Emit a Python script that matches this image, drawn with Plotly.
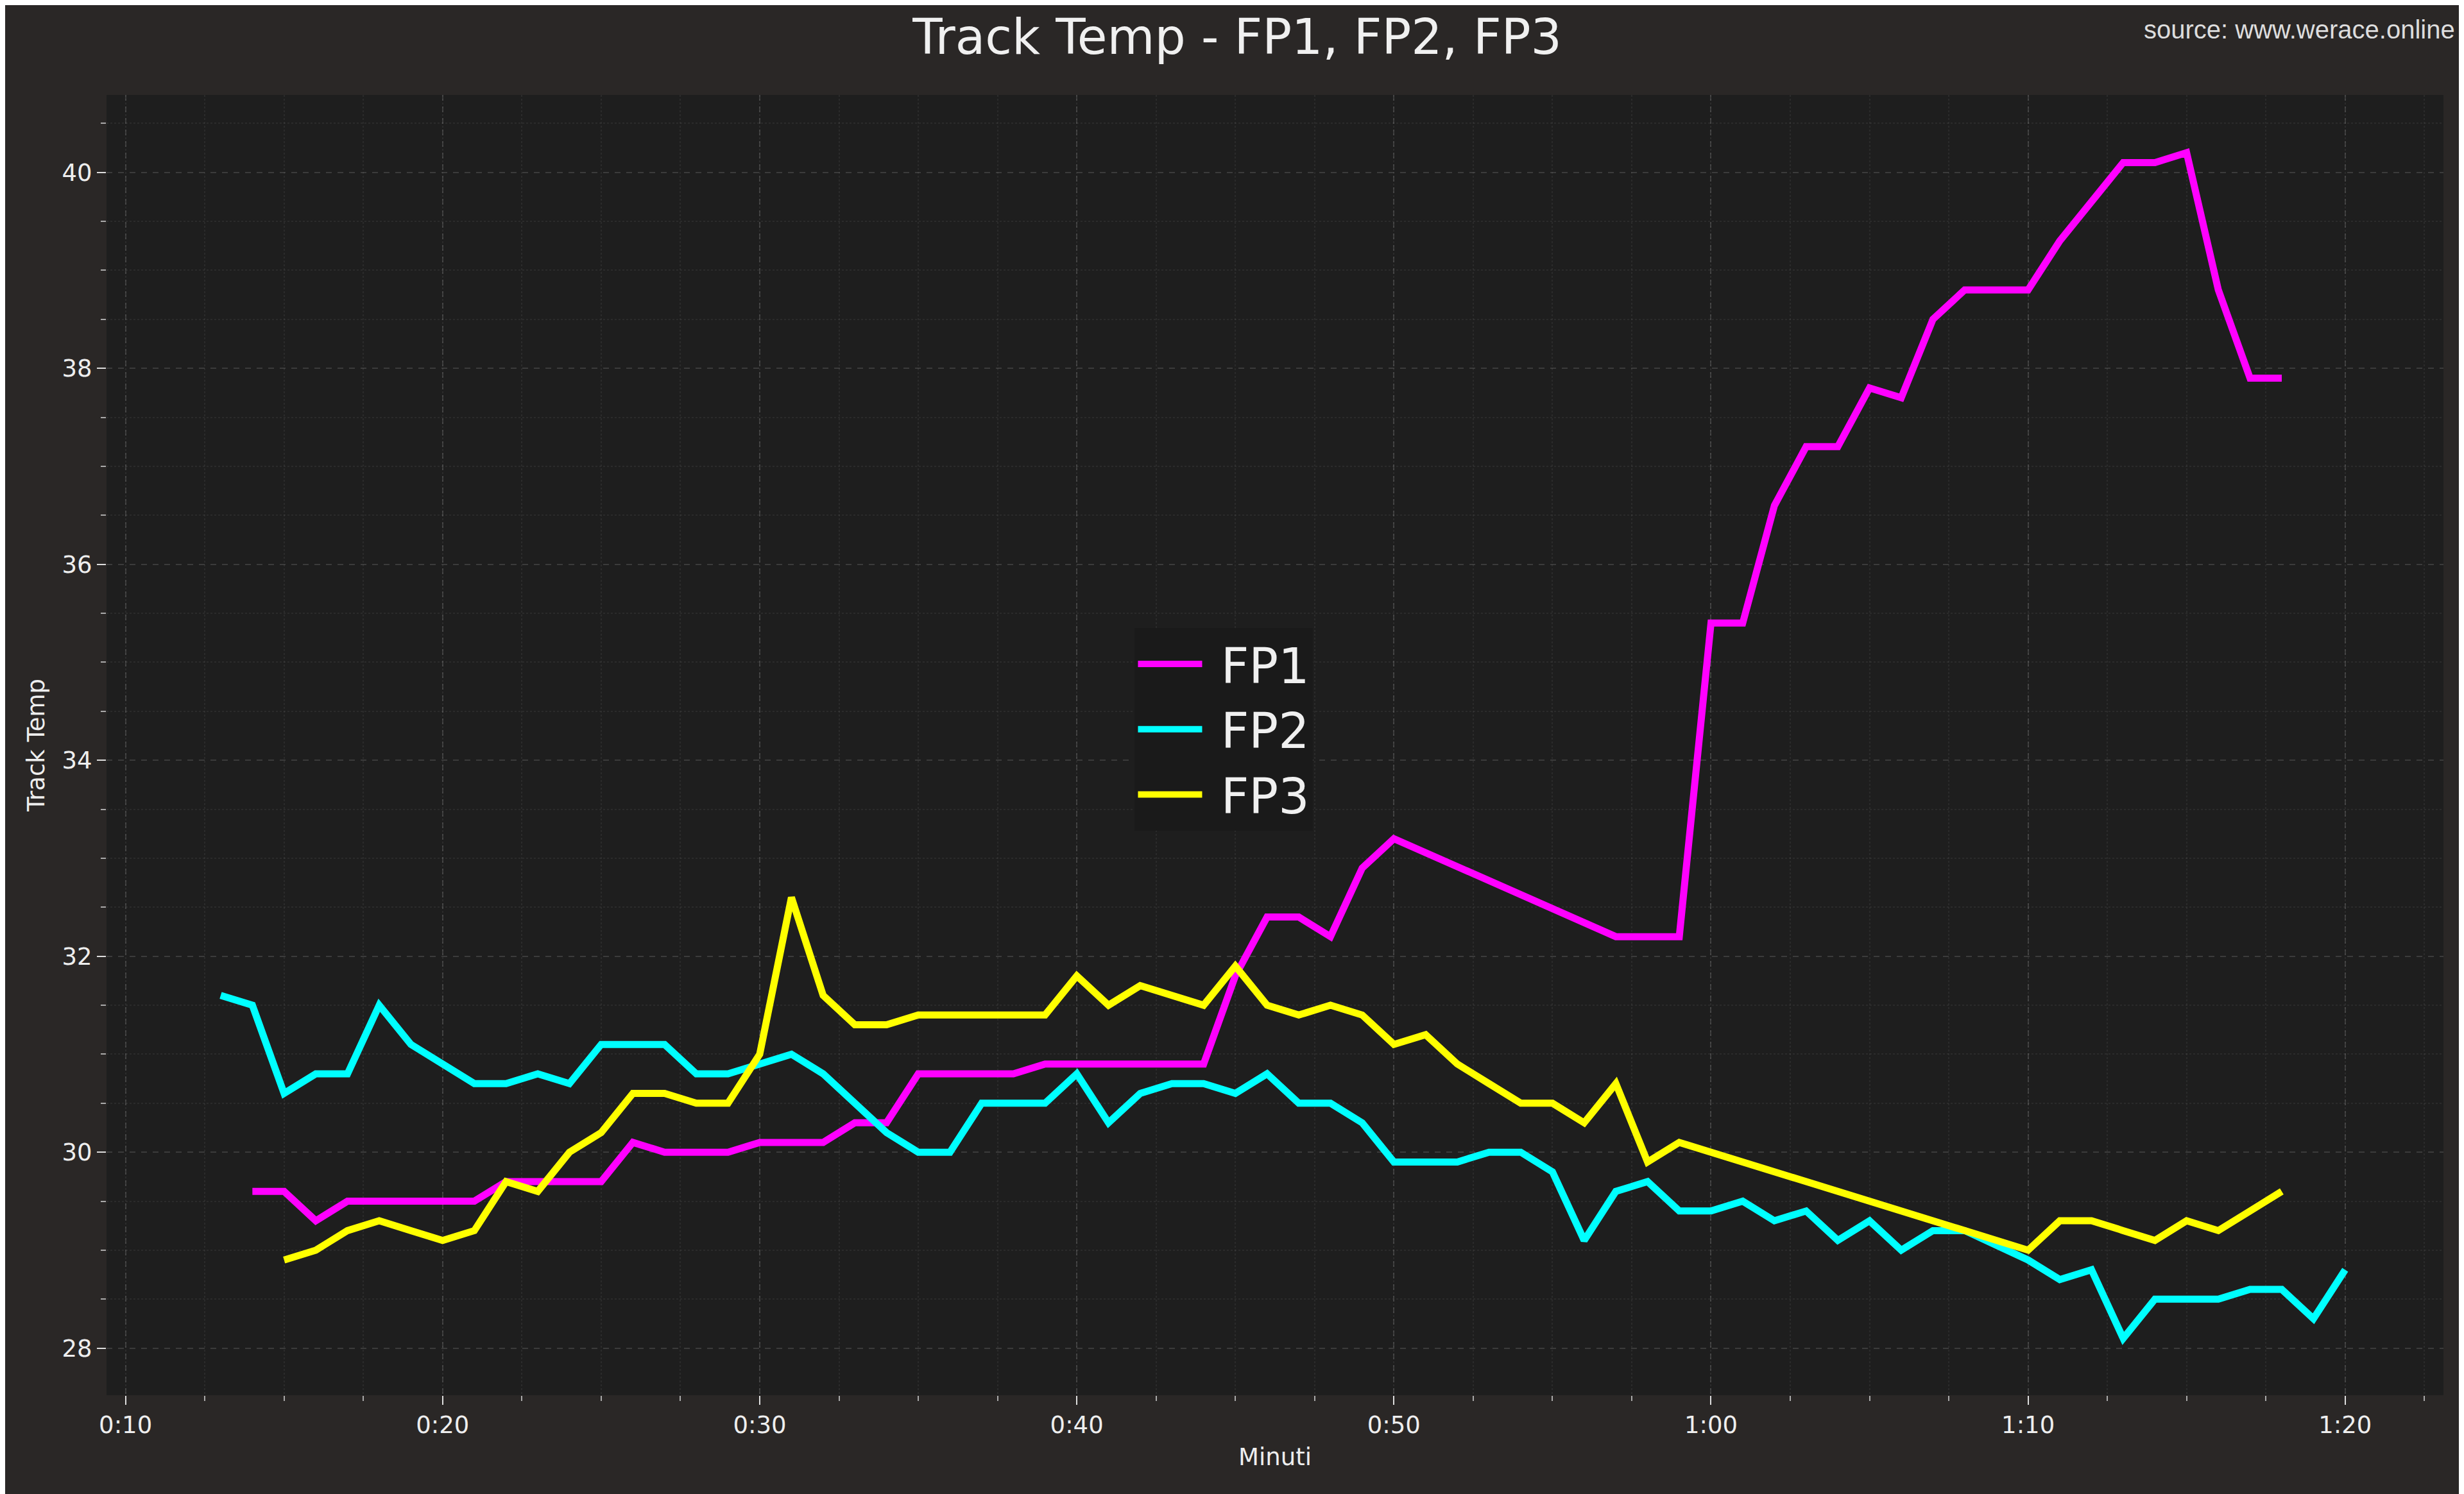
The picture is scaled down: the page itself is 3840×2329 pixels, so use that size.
import plotly.graph_objects as go

# minutes into session
fp1_min = list(range(14, 51)) + list(range(57, 79))
fp1_temp = [29.6, 29.6, 29.3, 29.5, 29.5, 29.5, 29.5, 29.5, 29.7, 29.7, 29.7, 29.7,
            30.1, 30.0, 30.0, 30.0, 30.1, 30.1, 30.1, 30.3, 30.3, 30.8, 30.8, 30.8,
            30.8, 30.9, 30.9, 30.9, 30.9, 30.9, 30.9, 31.8, 32.4, 32.4, 32.2, 32.9, 33.2,
            32.2, 32.2, 32.2, 35.4, 35.4, 36.6, 37.2, 37.2, 37.8, 37.7, 38.5, 38.8,
            38.8, 38.8, 39.3, 39.7, 40.1, 40.1, 40.2, 38.8, 37.9, 37.9]

fp2_min = list(range(13, 81))
fp2_temp = [31.6, 31.5, 30.6, 30.8, 30.8, 31.5, 31.1, 30.9, 30.7, 30.7, 30.8, 30.7,
            31.1, 31.1, 31.1, 30.8, 30.8, 30.9, 31.0, 30.8, 30.5, 30.2, 30.0, 30.0,
            30.5, 30.5, 30.5, 30.8, 30.3, 30.6, 30.7, 30.7, 30.6, 30.8, 30.5, 30.5,
            30.3, 29.9, 29.9, 29.9, 30.0, 30.0, 29.8, 29.1, 29.6, 29.7, 29.4, 29.4,
            29.5, 29.3, 29.4, 29.1, 29.3, 29.0, 29.2, 29.2, 29.05, 28.9, 28.7, 28.8,
            28.1, 28.5, 28.5, 28.5, 28.6, 28.6, 28.3, 28.8]

fp3_min = list(range(15, 60)) + list(range(70, 79))
fp3_temp = [28.9, 29.0, 29.2, 29.3, 29.2, 29.1, 29.2, 29.7, 29.6, 30.0, 30.2, 30.6,
            30.6, 30.5, 30.5, 31.0, 32.6, 31.6, 31.3, 31.3, 31.4, 31.4, 31.4, 31.4,
            31.4, 31.8, 31.5, 31.7, 31.6, 31.5, 31.9, 31.5, 31.4, 31.5, 31.4, 31.1,
            31.2, 30.9, 30.7, 30.5, 30.5, 30.3, 30.7, 29.9, 30.1,
            29.0, 29.3, 29.3, 29.2, 29.1, 29.3, 29.2, 29.4, 29.6]

tick_vals = [10, 20, 30, 40, 50, 60, 70, 80]
tick_text = ["0:10", "0:20", "0:30", "0:40", "0:50", "1:00", "1:10", "1:20"]

series = [("FP1", fp1_min, fp1_temp, "#ff00ff"),
          ("FP2", fp2_min, fp2_temp, "#00ffff"),
          ("FP3", fp3_min, fp3_temp, "#ffff00")]

fig = go.Figure()
for name, x, y, c in series:
    fig.add_trace(go.Scatter(x=x, y=y, name=" " + name, mode="lines",
                             line=dict(color=c, width=11)))

grid = "rgba(255,255,255,0.13)"
minor = dict(showgrid=True, gridcolor="rgba(255,255,255,0.06)", gridwidth=2, griddash="dot",
             ticks="outside", ticklen=8, tickcolor="#aaaaaa")
fig.update_xaxes(range=[9.4, 83.1], tickvals=tick_vals, ticktext=tick_text,
                 gridcolor=grid, gridwidth=2, griddash="dash", zeroline=False,
                 ticks="outside", ticklen=14, tickwidth=2, tickcolor="#dddddd",
                 minor=dict(dtick=2.5, **minor),
                 title=dict(text="Minuti", font=dict(size=37)),
                 tickfont=dict(size=37), showline=False)
fig.update_yaxes(range=[27.52, 40.79], tick0=28, dtick=2,
                 gridcolor=grid, gridwidth=2, griddash="dash", zeroline=False,
                 ticks="outside", ticklen=14, tickwidth=2, tickcolor="#dddddd",
                 minor=dict(dtick=0.5, **minor),
                 title=dict(text="Track Temp", font=dict(size=37)),
                 tickfont=dict(size=37))

fig.update_layout(
    width=3840, height=2329,
    paper_bgcolor="#2a2726", plot_bgcolor="#1e1e1e",
    font=dict(family="DejaVu Sans", color="#eeeeee"),
    margin=dict(l=158, r=40, t=140, b=162),
    title=dict(text="Track Temp - FP1, FP2, FP3", x=0.5, xanchor="center",
               y=0.99, yanchor="top", font=dict(size=76, color="#f0f0f0")),
    legend=dict(x=0.44, y=0.59, xanchor="left", yanchor="top",
                bgcolor="#1a1a1a", font=dict(size=76, color="#f0f0f0"),
                itemwidth=100, borderwidth=0),
    annotations=[dict(text="source: www.werace.online", xref="paper", yref="paper",
                      x=1.0, y=1.0, xanchor="right", yanchor="bottom", yshift=78,
                      xshift=20, showarrow=False,
                      font=dict(family="Liberation Sans", size=40, color="#dddddd"))],
)

fig.write_html("out.html")
